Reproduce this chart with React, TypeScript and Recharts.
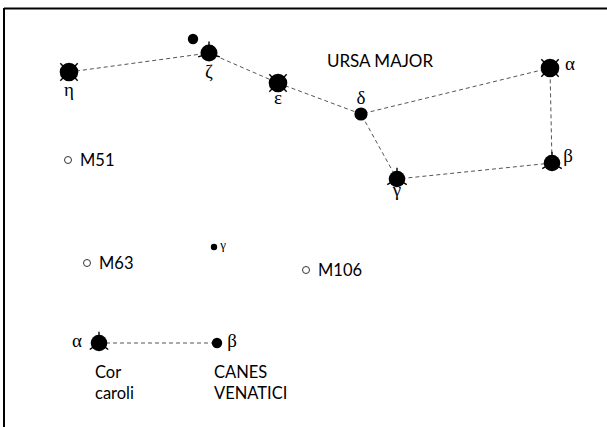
import React from 'react';
import { ScatterChart, Scatter, XAxis, YAxis, ReferenceLine } from 'recharts';

// Chart-plane coordinates of stars (x grows right, y grows down)
const umaStarNames = ['η', 'ζ', 'ε', 'δ', 'γ', 'α', 'β'];
const umaStarX = [69, 209, 278, 361, 397, 550, 552];
const umaStarY = [72, 53, 83, 114, 179, 68, 163];
const umaStarMag = [1.9, 2.2, 1.8, 3.3, 2.4, 1.8, 2.4];

const alcorX = [193];
const alcorY = [39];
const alcorMag = [4.0];

// Ursa Major asterism outline (order of the dashed path)
const umaPath = ['η', 'ζ', 'ε', 'δ', 'α', 'β', 'γ', 'δ'];

const cvnStarNames = ['α', 'β', 'γ'];
const cvnStarX = [99, 217, 214];
const cvnStarY = [343, 343, 247];
const cvnStarMag = [2.9, 4.2, 5.0];
const cvnPath = ['α', 'β'];

const messierNames = ['M51', 'M63', 'M106'];
const messierX = [68, 87, 306];
const messierY = [160, 263, 270];

const constellationLabels = ['URSA MAJOR', 'CANES', 'VENATICI', 'Cor', 'caroli'];
const constellationLabelX = [380, 214, 214, 95, 95];
const constellationLabelY = [61, 372, 393, 372, 393];

// ---- styles (not data) ----
const W = 607;
const H = 427;
const SANS = 'Lato, "Liberation Sans", sans-serif';
const SERIF = '"Liberation Serif", "DejaVu Serif", serif';

const radiusFor = (mag: number) => {
  if (mag <= 1.9) return 9.3;
  if (mag <= 2.2) return 8.5;
  if (mag <= 3.0) return 8.3;
  if (mag <= 3.5) return 6.6;
  if (mag <= 4.2) return 5.2;
  return 3.2;
};

const diag = [45, 135, 225, 315];
const tri = [-90, 30, 150];
const spikeStyle: Record<string, number[]> = {
  'UMa-η': diag,
  'UMa-ζ': [-90, 20, 160],
  'UMa-ε': diag,
  'UMa-δ': [],
  'UMa-γ': tri,
  'UMa-α': diag,
  'UMa-β': tri,
  'CVn-α': [-90, 35, 145],
  'CVn-β': [],
  'CVn-γ': [],
  'Alcor': [],
};

// label placement: [dx, dy, fontSize, anchor]
const labelStyle: Record<string, [number, number, number, string]> = {
  'UMa-η': [0, 24, 19, 'middle'],
  'UMa-ζ': [0, 25, 19, 'middle'],
  'UMa-ε': [0, 21, 19, 'middle'],
  'UMa-δ': [0, -10, 19, 'middle'],
  'UMa-γ': [0, 17, 19, 'middle'],
  'UMa-α': [20, 2, 19, 'middle'],
  'UMa-β': [16, -1, 19, 'middle'],
  'CVn-α': [-22, 4, 19, 'middle'],
  'CVn-β': [15, 4, 19, 'middle'],
  'CVn-γ': [9, 2, 13, 'middle'],
};

const umaStars = umaStarNames.map((n, i) => ({ id: 'UMa-' + n, label: n, x: umaStarX[i], y: umaStarY[i], mag: umaStarMag[i] }));
const alcor = alcorX.map((x, i) => ({ id: 'Alcor', label: '', x, y: alcorY[i], mag: alcorMag[i] }));
const cvnStars = cvnStarNames.map((n, i) => ({ id: 'CVn-' + n, label: n, x: cvnStarX[i], y: cvnStarY[i], mag: cvnStarMag[i] }));
const umaLine = umaPath.map((n) => umaStars.find((s) => s.label === n)!);
const cvnLine = cvnPath.map((n) => cvnStars.find((s) => s.label === n)!);
const messier = messierNames.map((n, i) => ({ label: n, x: messierX[i], y: messierY[i] }));
const names = constellationLabels.map((t, i) => ({ label: t, x: constellationLabelX[i], y: constellationLabelY[i] }));

const Empty = () => <g />;

const StarShape = (props: any) => {
  const { cx, cy, payload } = props;
  if (cx == null || cy == null) return <g />;
  const r = radiusFor(payload.mag);
  const spikes = spikeStyle[payload.id] || [];
  const ls = labelStyle[payload.id];
  return (
    <g>
      <circle cx={cx} cy={cy} r={r} fill="#000" />
      {spikes.map((a, i) => {
        const rad = (a * Math.PI) / 180;
        return (
          <line
            key={i}
            x1={cx + (r - 1) * Math.cos(rad)}
            y1={cy + (r - 1) * Math.sin(rad)}
            x2={cx + (r + 3) * Math.cos(rad)}
            y2={cy + (r + 3) * Math.sin(rad)}
            stroke="#000"
            strokeWidth={1.4}
          />
        );
      })}
      {ls && payload.label ? (
        <text x={cx + ls[0]} y={cy + ls[1]} fontSize={ls[2]} textAnchor={ls[3] as any} fontFamily={SERIF} fill="#000">
          {payload.label}
        </text>
      ) : null}
    </g>
  );
};

const MessierShape = (props: any) => {
  const { cx, cy, payload } = props;
  if (cx == null || cy == null) return <g />;
  return (
    <g>
      <circle cx={cx} cy={cy} r={3.5} fill="#fff" stroke="#333" strokeWidth={1} />
      <text x={cx + 12} y={cy + 6} fontSize={16.5} fontFamily={SANS} fill="#000" textAnchor="start">
        {payload.label}
      </text>
    </g>
  );
};

const NameShape = (props: any) => {
  const { cx, cy, payload } = props;
  if (cx == null || cy == null) return <g />;
  const centered = payload.label === 'URSA MAJOR';
  return (
    <text
      x={cx}
      y={cy + 6}
      fontSize={centered ? 17 : 16.5}
      fontFamily={SANS}
      fill="#000"
      textAnchor={centered ? 'middle' : 'start'}
    >
      {payload.label}
    </text>
  );
};

const dashed = { stroke: '#555', strokeWidth: 1, strokeDasharray: '4 3' };

export default function App() {
  return (
    <div style={{ position: 'absolute', left: 0, top: 0, width: W, height: H, background: '#fff' }}>
      <ScatterChart width={W} height={H} margin={{ top: 0, right: 0, bottom: 0, left: 0 }}>
        <XAxis type="number" dataKey="x" domain={[0, W]} hide allowDataOverflow />
        <YAxis type="number" dataKey="y" domain={[0, H]} reversed hide allowDataOverflow />
        <ReferenceLine segment={[{ x: 4, y: 8.5 }, { x: W, y: 8.5 }]} stroke="#000" strokeWidth={2} ifOverflow="visible" />
        <ReferenceLine segment={[{ x: 4, y: 8 }, { x: 4, y: H }]} stroke="#000" strokeWidth={2} ifOverflow="visible" />
        <Scatter data={umaLine} line={dashed} lineType="joint" shape={Empty} isAnimationActive={false} />
        <Scatter data={cvnLine} line={dashed} lineType="joint" shape={Empty} isAnimationActive={false} />
        <Scatter data={umaStars} shape={StarShape} isAnimationActive={false} />
        <Scatter data={alcor} shape={StarShape} isAnimationActive={false} />
        <Scatter data={cvnStars} shape={StarShape} isAnimationActive={false} />
        <Scatter data={messier} shape={MessierShape} isAnimationActive={false} />
        <Scatter data={names} shape={NameShape} isAnimationActive={false} />
      </ScatterChart>
    </div>
  );
}
